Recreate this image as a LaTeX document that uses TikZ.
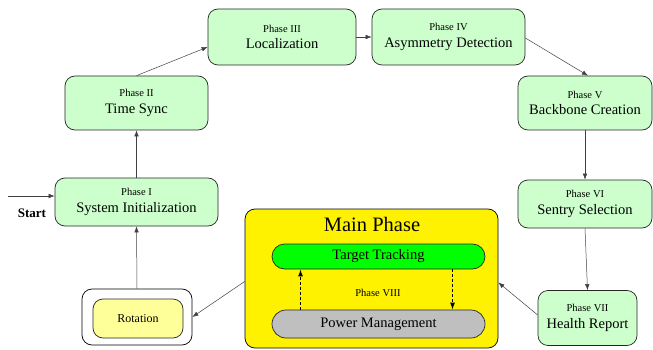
\documentclass[tikz,border=0pt]{standalone}
\usepackage{fontspec}
\setmainfont{Liberation Serif}
\usepackage{tikz}
\usetikzlibrary{arrows.meta}
\definecolor{palegreen}{HTML}{CCFFCC}
\definecolor{paleyellow}{HTML}{FFFF99}
\newcommand{\phasetag}[2]{{\fontsize{10.5}{12}\selectfont #1}\\{#2}}

\begin{document}
\begin{tikzpicture}[x=1pt,y=-1pt,
    phasebox/.style={draw=black!85,line width=0.7pt,fill=palegreen,rounded corners=10pt,align=center,inner sep=0pt,font=\rmfamily\fontsize{14.5}{16.5}\selectfont},
    flow/.style={-{Latex[length=6pt,width=4.5pt]},black!75,line width=0.5pt},
    sleep/.style={-{Latex[length=7pt,width=5pt]},black,line width=1.1pt,dash pattern=on 3pt off 2pt}]
    \useasboundingbox (0,0) rectangle (653,350);
    % phases around the ring
    \node[phasebox,minimum width=163pt,minimum height=48pt] (p1) at (136.5,202) {\phasetag{Phase I}{System Initialization}};
    \node[phasebox,minimum width=143pt,minimum height=54pt] (p2) at (136.5,103) {\phasetag{Phase II}{Time Sync}};
    \node[phasebox,minimum width=148pt,minimum height=56pt] (p3) at (282,37) {\phasetag{Phase III}{Localization}};
    \node[phasebox,minimum width=153pt,minimum height=56pt] (p4) at (448.5,37) {\phasetag{Phase IV}{Asymmetry Detection}};
    \node[phasebox,minimum width=134pt,minimum height=54pt] (p5) at (585,103) {\phasetag{Phase V}{Backbone Creation}};
    \node[phasebox,minimum width=134pt,minimum height=48pt] (p6) at (585,204) {\phasetag{Phase VI}{Sentry Selection}};
    \node[phasebox,minimum width=99pt,minimum height=55pt] (p7) at (587.5,318) {\phasetag{Phase VII}{Health Report}};
    % main phase
    \node[draw=black,line width=0.7pt,fill=yellow,rounded corners=10pt,minimum width=253pt,minimum height=139pt] (main) at (371.5,278.5) {};
    \node[font=\rmfamily\fontsize{20.5}{22}\selectfont] (mtitle) at (372,224) {Main Phase};
    \node[draw=black!85,line width=0.7pt,fill=green,rounded corners=12.5pt,minimum width=213pt,minimum height=25pt,font=\rmfamily\fontsize{14.5}{16}\selectfont] (tt) at (378.5,256.5) {Target Tracking};
    \node[draw=black!85,line width=0.7pt,fill=black!25,rounded corners=14pt,minimum width=213pt,minimum height=28pt,font=\rmfamily\fontsize{14.5}{16}\selectfont] (pm) at (378.5,324) {Power Management};
    \node[font=\rmfamily\fontsize{10.5}{12}\selectfont] (p8) at (378,293) {Phase VIII};
    % rotation
    \node[draw=black,line width=0.7pt,fill=white,rounded corners=10pt,minimum width=110pt,minimum height=56pt] (rot) at (137,317) {};
    \node[draw=black!85,line width=0.7pt,fill=paleyellow,rounded corners=10pt,minimum width=90pt,minimum height=39pt,font=\rmfamily\fontsize{12}{14}\selectfont] (rotin) at (138,318.5) {Rotation};
    % start
    \coordinate (s0) at (8,196);
    \node[font=\rmfamily\fontsize{13}{15}\selectfont\bfseries] (start) at (32,213) {Start};
    % arrows
    \draw[flow] (s0) -- ([yshift=6pt]p1.west);
    \draw[flow] (rot.north) -- (p1.south);
    \draw[flow] (p1.north) -- (p2.south);
    \draw[flow] (p2.north) -- ([yshift=-10pt]p3.west);
    \draw[flow] (p3.east) -- (p4.west);
    \draw[flow] ([yshift=-1pt]p4.east) -- ([xshift=3pt]p5.north);
    \draw[flow] (p5.south) -- (p6.north);
    \draw[flow] (p6.south) -- (p7.north);
    \draw[flow] ([yshift=3pt]p7.west) -- ([yshift=-4pt]main.east);
    \draw[flow] ([yshift=-3pt]main.west) -- (rot.east);
    \draw[sleep] ([xshift=-78pt]pm.north) -- ([xshift=-78pt]tt.south);
    \draw[sleep] ([xshift=74pt]tt.south) -- ([xshift=74pt]pm.north);
\end{tikzpicture}
\end{document}
